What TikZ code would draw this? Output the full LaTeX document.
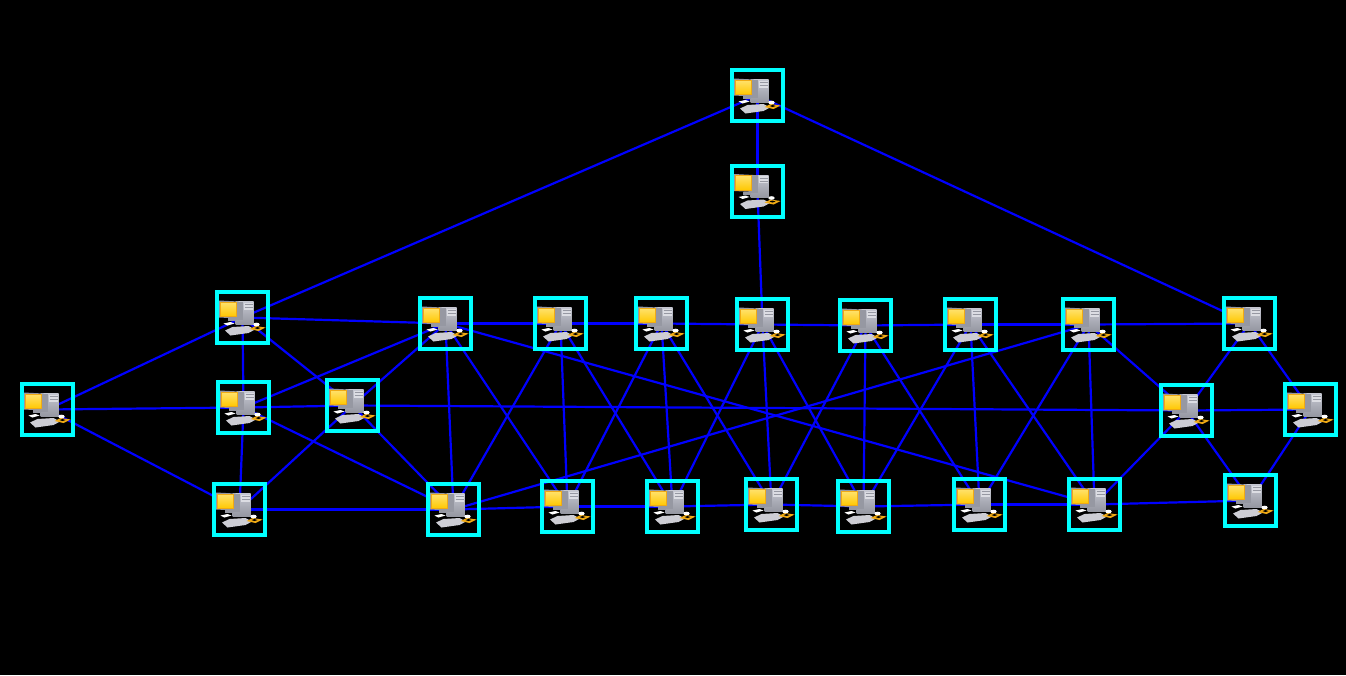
\documentclass[tikz,border=0pt]{standalone}
\usepackage{xcolor}
\usepackage{tikz}
\usetikzlibrary{backgrounds}
\definecolor{LinkBlue} {RGB}{0,   0,   255}
\definecolor{BoxCyan}  {RGB}{0,   255, 255}
\definecolor{CaseGrey} {RGB}{196, 198, 208}
\definecolor{CaseDark} {RGB}{150, 152, 162}
\definecolor{KeyGrey}  {RGB}{205, 205, 212}
\definecolor{ScreenTop}{RGB}{255, 226, 110}
\definecolor{ScreenLow}{RGB}{255, 200, 0}
\definecolor{PadOrange}{RGB}{240, 170, 20}

% one workstation, drawn round the centre of its box
\newcommand{\pcicon}{%
    \begin{scope}[shift={(path picture bounding box.center)}]
        % tower
        \shade[top color=CaseGrey, bottom color=CaseDark] (-7,-16) rectangle (11,6.5);
        \fill[CaseDark] (-7,-16) rectangle (0.5,2);
        \fill[CaseGrey!60!white] (1.5,-15) rectangle (10.5,-8);
        \draw[CaseDark, line width=0.8pt] (2,-12.8) -- (10,-12.8) (2,-10) -- (10,-10);
        % monitor
        \fill[CaseDark] (-23.5,-17) -- (-4,-16) -- (-4,1) -- (-23.5,0) -- cycle;
        \shade[top color=ScreenTop, bottom color=ScreenLow] (-22.5,-15.5) rectangle (-6.5,-1);
        \draw[PadOrange, line width=0.6pt] (-22.5,-15.5) rectangle (-6.5,-1);
        % stand
        \fill[CaseDark] (-15,0.5) rectangle (-7,3.5);
        \fill[white] (-19,6) -- (-12,4.5) -- (-8,6) -- (-15,8) -- cycle;
        % keyboard
        \fill[KeyGrey] (-17.5,13) -- (-10,9.5) -- (6,8.5) -- (12.5,12) -- (6,15.5) -- (-12,18) -- cycle;
        % mouse and pad
        \fill[PadOrange] (7,11.5) -- (13,8.5) -- (23,10) -- (16,13.5) -- cycle;
        \fill[black] (12,10.5) -- (15,9.5) -- (18,10.5) -- (15,11.5) -- cycle;
        \fill[white] (14,7) ellipse (3.2 and 1.8);
    \end{scope}%
}

\begin{document}
\begin{tikzpicture}[
    x=1pt, y=-1pt,
    host/.style={draw=BoxCyan, line width=4pt, inner sep=0pt, minimum size=51pt, path picture={\pcicon}},
    link/.style={draw=LinkBlue, line width=2.2pt}
]

    \useasboundingbox (0,0) rectangle (1346,675);

    % Nodes
    \node[host] (top) at (757.5,95.5) {};
    \node[host] (relay) at (757.5,191) {};

    \node[host] (west) at (47.5,409.5) {};
    \node[host] (hubA) at (242.5,317.5) {};
    \node[host] (hubB) at (243.5,407.5) {};
    \node[host] (hubC) at (239.5,509.5) {};
    \node[host] (hubD) at (352.5,405.5) {};

    \node[host] (upA) at (445.5,323.5) {};
    \node[host] (upB) at (560.5,323.5) {};
    \node[host] (upC) at (661.5,323.5) {};
    \node[host] (upD) at (762.5,324.5) {};
    \node[host] (upE) at (865.5,325.5) {};
    \node[host] (upF) at (970.5,324.5) {};
    \node[host] (upG) at (1088.5,324.5) {};
    \node[host] (upH) at (1249.5,323.5) {};

    \node[host] (lowA) at (453.5,509.5) {};
    \node[host] (lowB) at (567.5,506.5) {};
    \node[host] (lowC) at (672.5,506.5) {};
    \node[host] (lowD) at (771.5,504.5) {};
    \node[host] (lowE) at (863.5,506.5) {};
    \node[host] (lowF) at (979.5,504.5) {};
    \node[host] (lowG) at (1094.5,504.5) {};
    \node[host] (lowH) at (1250.5,500.5) {};

    \node[host] (eastA) at (1186.5,410.5) {};
    \node[host] (eastB) at (1310.5,409.5) {};

    \begin{scope}[on background layer]
        \fill[black] (0,0) rectangle (1346,675);

        % Edges
        \draw[link] (top.center) -- (relay.center);
        \draw[link] (relay.center) -- (upD.center);
        \draw[link] (top.center) -- (hubA.center);
        \draw[link] (top.center) -- (upH.center);

        \draw[link] (west.center) -- (hubA.center);
        \draw[link] (west.center) -- (hubB.center);
        \draw[link] (west.center) -- (hubC.center);
        \draw[link] (hubA.center) -- (hubB.center);
        \draw[link] (hubB.center) -- (hubC.center);
        \draw[link] (hubA.center) -- (hubD.center);
        \draw[link] (hubB.center) -- (hubD.center);
        \draw[link] (hubC.center) -- (hubD.center);
        \draw[link] (hubA.center) -- (upA.center);
        \draw[link] (hubB.center) -- (upA.center);
        \draw[link] (hubB.center) -- (lowA.center);
        \draw[link] (hubC.center) -- (lowA.center);
        \draw[link] (hubD.center) -- (upA.center);
        \draw[link] (hubD.center) -- (lowA.center);
        \draw[link] (hubD.center) -- (eastA.center);

        % Upper row
        \draw[link] (upA.center) -- (upB.center);
        \draw[link] (upB.center) -- (upC.center);
        \draw[link] (upC.center) -- (upD.center);
        \draw[link] (upD.center) -- (upE.center);
        \draw[link] (upE.center) -- (upF.center);
        \draw[link] (upF.center) -- (upG.center);
        \draw[link] (upG.center) -- (upH.center);

        % Lower row
        \draw[link] (lowA.center) -- (lowB.center);
        \draw[link] (lowB.center) -- (lowC.center);
        \draw[link] (lowC.center) -- (lowD.center);
        \draw[link] (lowD.center) -- (lowE.center);
        \draw[link] (lowE.center) -- (lowF.center);
        \draw[link] (lowF.center) -- (lowG.center);
        \draw[link] (lowG.center) -- (lowH.center);

        % Between the rows
        \draw[link] (upA.center) -- (lowA.center);
        \draw[link] (upA.center) -- (lowB.center);
        \draw[link] (upB.center) -- (lowA.center);
        \draw[link] (upB.center) -- (lowB.center);
        \draw[link] (upB.center) -- (lowC.center);
        \draw[link] (upC.center) -- (lowB.center);
        \draw[link] (upC.center) -- (lowC.center);
        \draw[link] (upC.center) -- (lowD.center);
        \draw[link] (upD.center) -- (lowC.center);
        \draw[link] (upD.center) -- (lowD.center);
        \draw[link] (upD.center) -- (lowE.center);
        \draw[link] (upE.center) -- (lowD.center);
        \draw[link] (upE.center) -- (lowE.center);
        \draw[link] (upE.center) -- (lowF.center);
        \draw[link] (upF.center) -- (lowE.center);
        \draw[link] (upF.center) -- (lowF.center);
        \draw[link] (upF.center) -- (lowG.center);
        \draw[link] (upG.center) -- (lowF.center);
        \draw[link] (upG.center) -- (lowG.center);
        \draw[link] (upA.center) -- (lowG.center);
        \draw[link] (lowA.center) -- (upG.center);

        % East side
        \draw[link] (upG.center) -- (eastA.center);
        \draw[link] (lowG.center) -- (eastA.center);
        \draw[link] (eastA.center) -- (upH.center);
        \draw[link] (eastA.center) -- (lowH.center);
        \draw[link] (eastA.center) -- (eastB.center);
        \draw[link] (eastB.center) -- (upH.center);
        \draw[link] (eastB.center) -- (lowH.center);
    \end{scope}

\end{tikzpicture}
\end{document}
